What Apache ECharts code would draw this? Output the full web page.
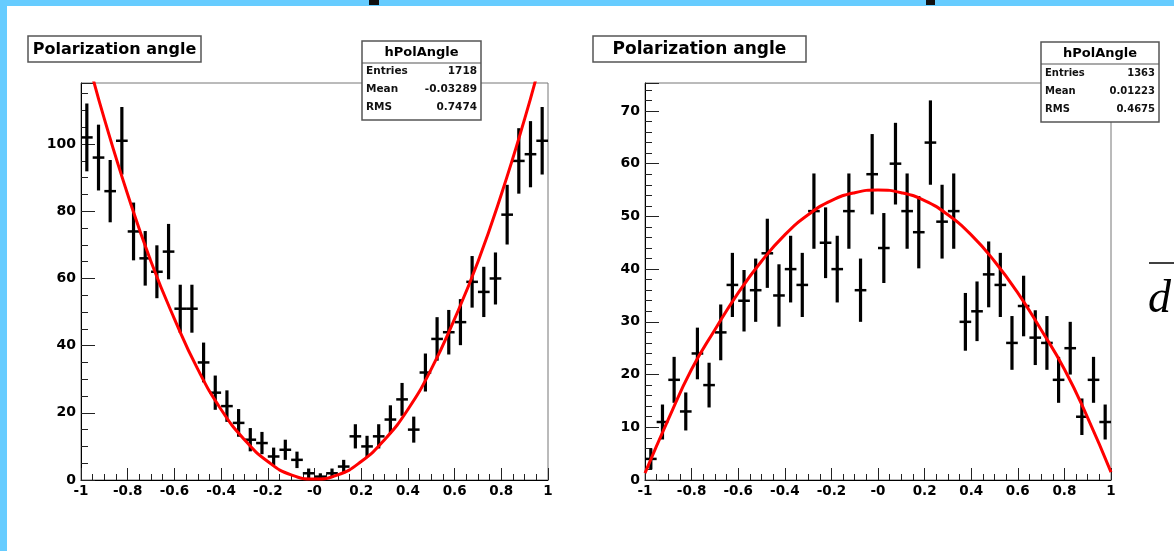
<!DOCTYPE html>
<html><head><meta charset="utf-8">
<script src="https://cdn.jsdelivr.net/npm/echarts@6/dist/echarts.min.js"></script>
<style>html,body{margin:0;padding:0;background:#fff}#c{width:1174px;height:551px}</style>
</head><body><div id="c"></div>
<script>
// ---- data ----
const binCenters = [-0.975,-0.925,-0.875,-0.825,-0.775,-0.725,-0.675,-0.625,-0.575,-0.525,
  -0.475,-0.425,-0.375,-0.325,-0.275,-0.225,-0.175,-0.125,-0.075,-0.025,
  0.025,0.075,0.125,0.175,0.225,0.275,0.325,0.375,0.425,0.475,
  0.525,0.575,0.625,0.675,0.725,0.775,0.825,0.875,0.925,0.975];
const countsLeft = [102,96,86,101,74,66,62,68,51,51,35,26,22,17,12,11,7,9,6,2,
  1,2,4,13,10,13,18,24,15,32,42,44,47,59,56,60,79,95,97,101];
const countsRight = [4,11,19,13,24,18,28,37,34,36,43,35,40,37,51,45,40,51,36,58,
  44,60,51,47,64,49,51,30,32,39,37,26,33,27,26,19,25,12,19,11];
const fitXLeft = [-0.96,-0.9,-0.8,-0.7,-0.6,-0.5,-0.4,-0.3,-0.2,-0.1,0,0.1,0.2,0.3,0.4,0.5,0.6,0.7,0.8,0.9,0.96];
const fitYLeft = [122.5,107.5,85,65,48,33,21,12,5.5,1.5,0.3,1.5,5.5,12,21,33,48,65,85,107.5,122.5];
const fitXRight = [-1,-0.9,-0.8,-0.7,-0.6,-0.5,-0.4,-0.3,-0.2,-0.1,0,0.1,0.2,0.3,0.4,0.5,0.6,0.7,0.8,0.9,1];
const fitYRight = [1.3,11.5,21,28.5,35.5,41.5,46.5,50.3,53,54.5,55,54.5,53,50.3,46.5,41.5,35.5,28.5,21,11.8,1.5];
const xTickLabels = ['-1','-0.8','-0.6','-0.4','-0.2','-0','0.2','0.4','0.6','0.8','1'];
const yTickLabelsLeft = ['0','20','40','60','80','100'];
const yTickLabelsRight = ['0','10','20','30','40','50','60','70'];
const titleText = 'Polarization angle';
const statsName = 'hPolAngle';
const statsLabels = ['Entries','Mean','RMS'];
const statsLeftValues = ['1718','-0.03289','0.7474'];
const statsRightValues = ['1363','0.01223','0.4675'];

// ---- chart ----
const FONT = 'DejaVu Sans';
const chart = echarts.init(document.getElementById('c'));

function xAxisCfg(grid){
  return {gridIndex:grid, type:'value', min:-1, max:1, interval:0.2, position:'bottom',
    axisLine:{show:true, onZero:false, lineStyle:{color:'#000', width:1}},
    axisTick:{show:true, inside:true, length:12, lineStyle:{color:'#222', width:1}},
    minorTick:{show:true, splitNumber:4, length:6, lineStyle:{color:'#222', width:1}},
    splitLine:{show:false},
    axisLabel:{margin:4, color:'#000', fontFamily:FONT, fontWeight:'bold', fontSize:13.5,
      formatter:(v)=>{const k=Math.round((v+1)/0.2); return Math.abs(v+1-k*0.2)<1e-6 ? xTickLabels[k] : '';}}
  };
}
function yMajor(grid,max,step,labels){
  return {gridIndex:grid, type:'value', min:0, max:max, interval:step, position:'left', offset:0,
    axisLine:{show:true, onZero:false, lineStyle:{color:'#000', width:1}},
    axisTick:{show:true, inside:true, length:14, lineStyle:{color:'#222', width:1}},
    splitLine:{show:false},
    axisLabel:{margin:5, color:'#000', fontFamily:FONT, fontWeight:'bold', fontSize:14,
      formatter:(v)=>{const k=Math.round(v/step); return (Math.abs(v-k*step)<1e-6 && k<labels.length) ? labels[k] : '';}}
  };
}
function yMinor(grid,max,step){
  return {gridIndex:grid, type:'value', min:0, max:max, interval:step, position:'left', offset:0,
    axisLine:{show:false, onZero:false}, axisTick:{show:true, inside:true, length:7, lineStyle:{color:'#222', width:1}},
    axisLabel:{show:false}, splitLine:{show:false}};
}
function renderErr(params, api){
  const x=api.value(0), y=api.value(1), e=api.value(2);
  const t=api.coord([x,y+e]), b=api.coord([x,Math.max(0,y-e)]);
  const l=api.coord([x-0.025,y]), r=api.coord([x+0.025,y]);
  return {type:'group', children:[
    {type:'line', shape:{x1:t[0],y1:t[1],x2:b[0],y2:b[1]}, style:{stroke:'#000',lineWidth:3.2}},
    {type:'line', shape:{x1:l[0],y1:l[1],x2:r[0],y2:r[1]}, style:{stroke:'#000',lineWidth:2.5}}
  ]};
}
function errData(counts){ return binCenters.map((x,i)=>[x, counts[i], Math.sqrt(counts[i])]); }

function statsBox(x,y,w,h,sepY,vals,rowYs,nameSize,rowSize){
  const els=[
    {type:'rect', shape:{x:x,y:y,width:w,height:h}, style:{fill:'#fff', stroke:'#555', lineWidth:1.5}, z:100},
    {type:'line', shape:{x1:x,y1:sepY,x2:x+w,y2:sepY}, style:{stroke:'#555', lineWidth:1.2}, z:101},
    {type:'text', x:x+w/2, y:(y+sepY)/2+1, style:{text:statsName, font:`bold ${nameSize}px "${FONT}"`, fill:'#000', textAlign:'center', textVerticalAlign:'middle'}, z:102}
  ];
  statsLabels.forEach((lab,i)=>{
    els.push({type:'text', x:x+4, y:rowYs[i], style:{text:lab, font:`bold ${rowSize}px "${FONT}"`, fill:'#111', textAlign:'left', textVerticalAlign:'middle'}, z:102});
    els.push({type:'text', x:x+w-4, y:rowYs[i], style:{text:vals[i], font:`bold ${rowSize}px "${FONT}"`, fill:'#111', textAlign:'right', textVerticalAlign:'middle'}, z:102});
  });
  return els;
}
function titleBox(x,y,w,h,size){
  return [
    {type:'rect', shape:{x:x,y:y,width:w,height:h}, style:{fill:'#fff', stroke:'#555', lineWidth:1.5}, z:100},
    {type:'text', x:x+w/2, y:y+h/2+1, style:{text:titleText, font:`bold ${size}px "${FONT}"`, fill:'#000', textAlign:'center', textVerticalAlign:'middle'}, z:101}
  ];
}

const graphics = [
  {type:'rect', shape:{x:0,y:0,width:1174,height:6}, style:{fill:'#66ccff'}, z:0},
  {type:'rect', shape:{x:0,y:0,width:7,height:551}, style:{fill:'#66ccff'}, z:0},
  {type:'rect', shape:{x:369,y:0,width:10,height:5}, style:{fill:'#111'}, z:1},
  {type:'rect', shape:{x:926,y:0,width:9,height:5}, style:{fill:'#111'}, z:1},
  {type:'line', shape:{x1:1149,y1:263,x2:1174,y2:263}, style:{stroke:'#000', lineWidth:1.5}, z:1},
  {type:'text', x:1148, y:300, style:{text:'d', font:'italic 46px "Liberation Serif"', fill:'#000', textAlign:'left', textVerticalAlign:'middle'}, z:1},
  ...titleBox(28,36,173,26,16),
  ...titleBox(593,36,213,26,17),
  ...statsBox(362,41,119,79,63,statsLeftValues,[71,89,107],13,10.5),
  ...statsBox(1041,42,118,80,64,statsRightValues,[73,91,109],13,10)
];

chart.setOption({
  animation:false,
  backgroundColor:'#fff',
  grid:[
    {left:81, top:83, width:467, height:397, show:true, borderColor:'#777', borderWidth:1, backgroundColor:'transparent'},
    {left:645, top:83, width:466, height:397, show:true, borderColor:'#777', borderWidth:1, backgroundColor:'transparent'}
  ],
  xAxis:[xAxisCfg(0), xAxisCfg(1)],
  yAxis:[yMajor(0,118.2,20,yTickLabelsLeft), yMinor(0,118.2,5), yMajor(1,75.3,10,yTickLabelsRight), yMinor(1,75.3,2)],
  series:[
    {type:'custom', xAxisIndex:0, yAxisIndex:0, renderItem:renderErr, data:errData(countsLeft), clip:true, z:3},
    {type:'line', xAxisIndex:0, yAxisIndex:0, data:fitXLeft.map((x,i)=>[x,fitYLeft[i]]), smooth:true, showSymbol:false, clip:true,
      lineStyle:{color:'#ff0000', width:3}, z:4},
    {type:'custom', xAxisIndex:1, yAxisIndex:2, renderItem:renderErr, data:errData(countsRight), clip:true, z:3},
    {type:'line', xAxisIndex:1, yAxisIndex:2, data:fitXRight.map((x,i)=>[x,fitYRight[i]]), smooth:true, showSymbol:false, clip:true,
      lineStyle:{color:'#ff0000', width:3}, z:4}
  ],
  graphic:graphics
});
</script></body></html>
